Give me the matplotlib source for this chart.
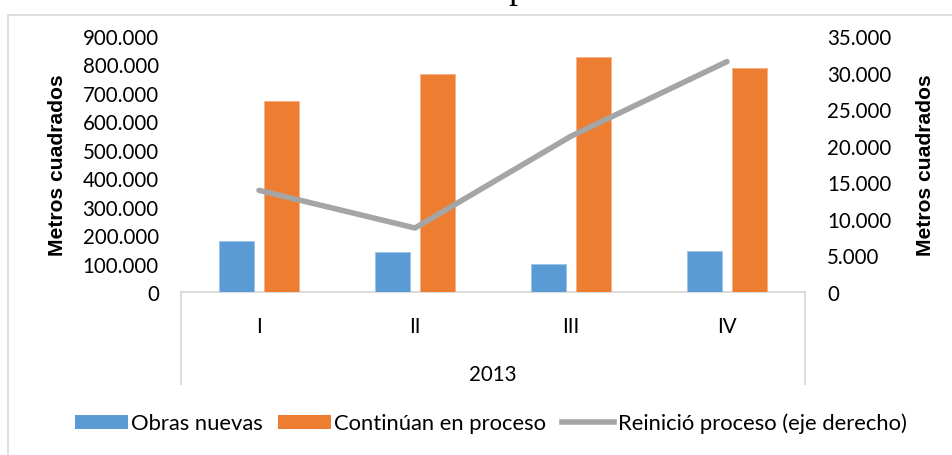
import matplotlib
matplotlib.use("Agg")
import matplotlib.pyplot as plt
import numpy as np
from matplotlib.lines import Line2D
from matplotlib.patches import Patch, Rectangle
import matplotlib.transforms as mtransforms

categories = ["I", "II", "III", "IV"]
year_label = "2013"
obras_nuevas = [178000, 142000, 98000, 144000]
continuan = [670000, 765000, 825000, 789000]
reinicio = [13900, 8750, 21300, 31500]
left_ticks = [0, 100000, 200000, 300000, 400000, 500000, 600000, 700000, 800000, 900000]
right_ticks = [0, 5000, 10000, 15000, 20000, 25000, 30000, 35000]
series_names = ["Obras nuevas", "Continúan en proceso", "Reinició proceso (eje derecho)"]
axis_title = "Metros cuadrados"

BLUE = "#5b9bd5"
ORANGE = "#ed7d31"
GRAY = "#a5a5a5"
BORDER = "#d9d9d9"
FONT = "Lato"
FS = 14.8

plt.rcParams['font.family'] = [FONT, 'DejaVu Sans']

W, H = 953, 456
fig = plt.figure(figsize=(W / 100, H / 100), dpi=100)

def fx(px):
    return px / W

def fy(py):
    return 1 - py / H

# outer chart border
fig.patches.append(Rectangle((fx(8), fy(470)), 2, fy(16) - fy(470), transform=fig.transFigure,
                             fill=False, edgecolor=BORDER, linewidth=1.2))
# cut-off title fragment at top (only its descender shows, as in the reference)
fig.text(fx(517), fy(-1.5), "p", family=["Liberation Serif"], fontsize=26, ha="center", va="baseline")

ax = fig.add_axes([fx(181), fy(293), fx(805) - fx(181), fy(37) - fy(293)])
ax2 = ax.twinx()

x = np.arange(len(categories))
bw = 0.224
off = 0.143
ax.bar(x - off, obras_nuevas, bw, color=BLUE, edgecolor="#9cc3e6", linewidth=0.6, zorder=2)
ax.bar(x + off, continuan, bw, color=ORANGE, edgecolor="#f4b183", linewidth=0.6, zorder=2)
ax2.plot(x, reinicio, color=GRAY, linewidth=4, solid_capstyle="round", solid_joinstyle="round", zorder=3)

ax.set_xlim(-0.5, len(categories) - 0.5)
ax.set_ylim(0, 900000)
ax2.set_ylim(0, 35000)

def fmt(v):
    return f"{v:,.0f}".replace(",", ".")

ax.set_yticks(left_ticks)
ax.set_yticklabels([fmt(v) for v in left_ticks])
ax2.set_yticks(right_ticks)
ax2.set_yticklabels([fmt(v) for v in right_ticks])
ax.tick_params(axis="y", length=0, pad=16, labelsize=FS)
ax2.tick_params(axis="y", length=0, pad=16, labelsize=FS)
ax.set_xticks([])
for a in (ax, ax2):
    for s in a.spines.values():
        s.set_visible(False)

LFS = 15.2
ax.set_ylabel(axis_title, fontsize=LFS, fontweight="bold", family=["Liberation Sans", "DejaVu Sans"])
ax.yaxis.set_label_coords((67 - 181) / 624, 0.5)
ax2.set_ylabel(axis_title, fontsize=LFS, fontweight="bold", family=["Liberation Sans", "DejaVu Sans"])
ax2.yaxis.set_label_coords((916 - 181) / 624, 0.5)

# category axis box
depth = (385 - 293) / 256
for xs, ys in [((0, 1), (0, 0)), ((0, 0), (0, -depth)), ((1, 1), (0, -depth))]:
    ax.add_line(Line2D(xs, ys, transform=ax.transAxes, color=BORDER, linewidth=1.3, clip_on=False, zorder=1))

trans = mtransforms.blended_transform_factory(ax.transData, ax.transAxes)
for xi, lab in zip(x, categories):
    ax.text(xi, (293 - 327) / 256, lab, transform=trans, ha="center", va="center", fontsize=FS)
ax.text(0.5, (293 - 375) / 256, year_label, transform=ax.transAxes, ha="center", va="center", fontsize=FS)

handles = [Patch(facecolor=BLUE, edgecolor="none"),
           Patch(facecolor=ORANGE, edgecolor="none"),
           Line2D([0], [0], color=GRAY, linewidth=4)]
fig.legend(handles, series_names, loc="center", bbox_to_anchor=(fx(491), fy(424)), ncol=3,
           frameon=False, fontsize=15.8, handlelength=2.4, handleheight=0.6, handletextpad=0.15,
           columnspacing=0.7)

fig.savefig("out.png", dpi=100)
